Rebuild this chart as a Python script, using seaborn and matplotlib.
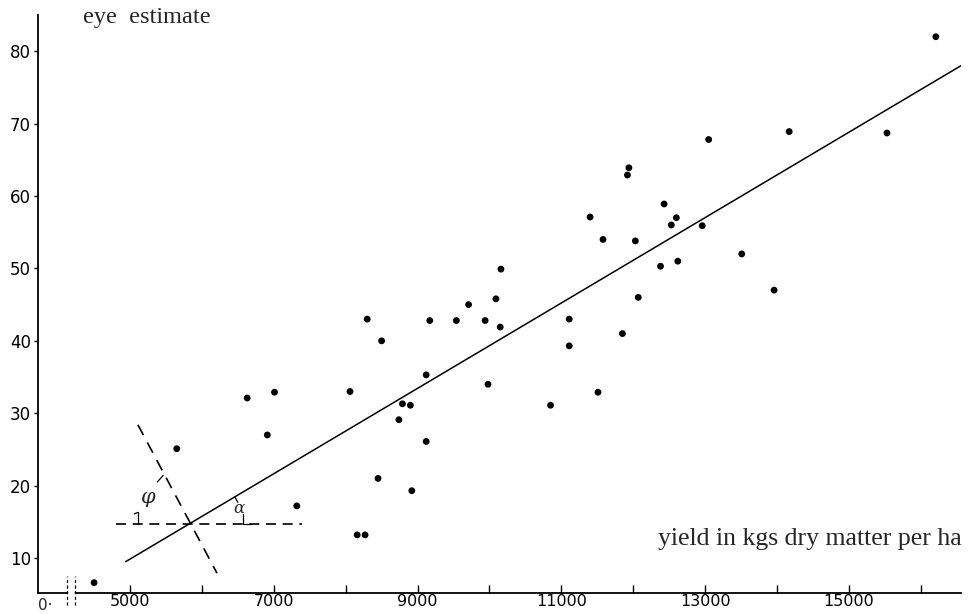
import matplotlib
matplotlib.use("Agg")
import matplotlib.pyplot as plt
import seaborn as sns
import pandas as pd

# ---- data ----
yield_kg = [4500, 5650, 6630, 7010, 6910, 7320, 8060, 8300, 8500, 8160, 8270, 8450,
            8740, 8790, 8900, 8920, 9120, 9120, 9170, 9540, 9710, 9940, 9980, 10090,
            10150, 10160, 10850, 11110, 11110, 11400, 11510, 11580, 11850, 11920, 11940,
            12030, 12070, 12380, 12430, 12530, 12600, 12620, 12960, 13050, 13510, 13960,
            14170, 15530, 16210]
eye_est = [6.6, 25.1, 32.1, 32.9, 27.0, 17.2, 33.0, 43.0, 40.0, 13.2, 13.2, 21.0,
           29.1, 31.3, 31.1, 19.3, 35.3, 26.1, 42.8, 42.8, 45.0, 42.8, 34.0, 45.8,
           41.9, 49.9, 31.1, 43.0, 39.3, 57.1, 32.9, 54.0, 41.0, 62.9, 63.9,
           53.8, 46.0, 50.3, 58.9, 56.0, 57.0, 51.0, 55.9, 67.8, 52.0, 47.0,
           68.9, 68.7, 82.0]

fit_x = [4940, 16560]
fit_y = [9.5, 78.0]

horiz_dash_x = [4800, 7390]
horiz_dash_y = [14.7, 14.7]
perp_dash_x = [5110, 6210]
perp_dash_y = [28.4, 7.9]

x_major = [5000, 7000, 9000, 11000, 13000, 15000]
x_minor = [6000, 8000, 10000, 12000, 14000, 16000]
y_ticks = [10, 20, 30, 40, 50, 60, 70, 80]

# ---- figure ----
sns.set_style("ticks")
plt.rcParams["font.family"] = ["DejaVu Sans"]
plt.rcParams["xtick.color"] = "black"
plt.rcParams["ytick.color"] = "black"
plt.rcParams["xtick.labelcolor"] = "black"
plt.rcParams["ytick.labelcolor"] = "black"
plt.rcParams["axes.edgecolor"] = "black"

fig = plt.figure(figsize=(9.68, 6.14), dpi=100)
ax = fig.add_axes([38 / 968, 1 - 593 / 614, (961 - 38) / 968, (593 - 15) / 614])

df = pd.DataFrame({"yield": yield_kg, "eye": eye_est})
sns.scatterplot(data=df, x="yield", y="eye", ax=ax, color="black", s=24,
                edgecolor="none", zorder=3)

fit_df = pd.DataFrame({"x": fit_x, "y": fit_y})
sns.lineplot(data=fit_df, x="x", y="y", ax=ax, color="black", linewidth=1.1)

ax.plot(horiz_dash_x, horiz_dash_y, color="black", linewidth=1.2,
        dashes=(6, 4))
ax.plot(perp_dash_x, perp_dash_y, color="black", linewidth=1.2,
        dashes=(7, 5))

# angle markers
ax.plot([5110, 5110], [14.7, 16.3], color="black", lw=0.9)
ax.plot([5110, 5060], [16.3, 16.1], color="black", lw=0.9)
ax.plot([5460, 5380], [21.4, 20.5], color="black", lw=0.9)
ax.plot([6570, 6570], [14.7, 16.1], color="black", lw=0.9)
ax.plot([6570, 6680], [14.7, 14.7], color="black", lw=0.9)
ax.plot([6460, 6500], [18.4, 17.7], color="black", lw=0.9)
ax.text(5250, 18.3, "φ", fontsize=15, style="italic", ha="center", va="center",
        family=["DejaVu Serif"])
ax.text(6520, 16.8, "α", fontsize=12, style="italic", ha="center", va="center",
        family=["DejaVu Serif"])

ax.set_xlim(3720, 16560)
ax.set_ylim(5.17, 85)

ax.set_xticks(x_major)
ax.set_xticklabels([str(v) for v in x_major])
ax.set_xticks(x_minor, minor=True)
ax.set_yticks(y_ticks)
ax.set_yticklabels([str(v) for v in y_ticks])

ax.tick_params(axis="x", which="both", direction="in", length=5.5, width=1.0,
               labelsize=11.5, pad=0.5)
ax.tick_params(axis="y", direction="out", length=3, width=1.0,
               labelsize=12, pad=2)

for side in ["top", "right"]:
    ax.spines[side].set_visible(False)
ax.spines["left"].set_linewidth(1.3)
ax.spines["bottom"].set_linewidth(1.3)

ax.set_xlabel("")
ax.set_ylabel("")

# axis break marks near origin
ax.plot([4150, 4210], [5.17, 5.17], color="white", lw=2.5, clip_on=False, zorder=5)
for bx in [4124, 4235]:
    ax.plot([bx, bx], [3.5, 7.5], color="black", lw=0.9, dashes=(2.5, 2),
            clip_on=False, zorder=6)

fig.text(38 / 968, 1 - 605 / 614, "0·", ha="left", va="center", fontsize=11)

fig.text(83 / 968, 1 - 17 / 614, "eye  estimate", ha="left", va="center",
         fontsize=17.5, family=["Liberation Serif"])
fig.text(962 / 968, 1 - 539 / 614, "yield in kgs dry matter per ha", ha="right",
         va="center", fontsize=18.5, family=["Liberation Serif"])

fig.savefig("out.png", dpi=100)
